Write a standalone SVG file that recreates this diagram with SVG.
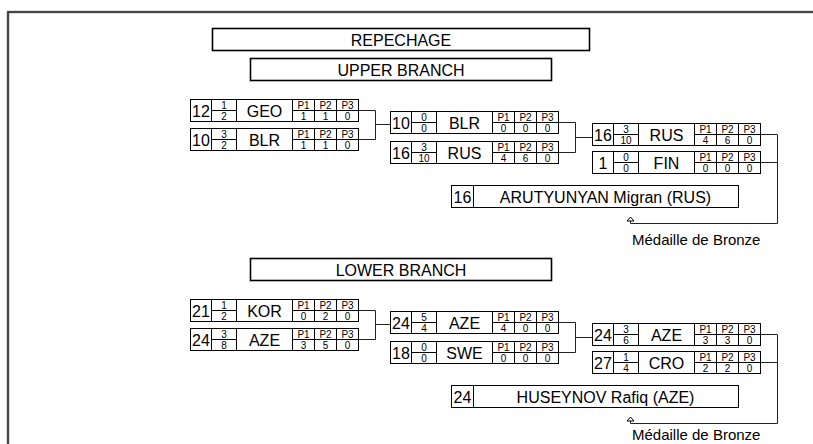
<svg xmlns="http://www.w3.org/2000/svg" xmlns:xlink="http://www.w3.org/1999/xlink" width="813" height="444" viewBox="0 0 813 444">
<style>
.bx{fill:#fff;stroke:#000;stroke-width:1}
.hd{fill:#fff;stroke:#000;stroke-width:1.6}
.ln{fill:none;stroke:#000;stroke-width:1}
.cn{fill:none;stroke:#222;stroke-width:1}
text{font-family:"Liberation Sans",Arial,sans-serif;text-anchor:middle;fill:#000}
.h{font-size:16px}
.s{font-size:16px}
.n{font-size:16px}
.f{font-size:10px}
.lab{font-size:15px;text-anchor:start}
</style>
<defs>
<g id="grid">
<rect class="bx" x="0" y="0" width="168" height="22"/>
<path class="ln" d="M21,0V22M46,0V22M102,0V22M124,0V22M146,0V22M21,11H46M102,11H168"/>
</g>
<marker id="ah" markerUnits="userSpaceOnUse" markerWidth="12" markerHeight="12" viewBox="-2 -6 12 12" refX="0" refY="0" orient="auto" overflow="visible">
<path d="M0,-3.5L4,0L0,3.5Z" fill="#fff" stroke="#000" stroke-width="1"/>
</marker>
</defs>

<path d="M8,444V12H813" fill="none" stroke="#bbb" stroke-width="3"/>
<path d="M8,444V12H813" fill="none" stroke="#222" stroke-width="1.5"/>

<g id="repechage">
<rect class="hd" x="212.5" y="28.5" width="377" height="22"/>
<text class="h" x="401" y="45.5">REPECHAGE</text>
</g>
<g id="upper-branch">
<rect class="hd" x="250.5" y="58.5" width="301" height="22"/>
<text class="h" x="401" y="75.5">UPPER BRANCH</text>
</g>
<g id="lower-branch">
<rect class="hd" x="250.5" y="258.5" width="301" height="22"/>
<text class="h" x="401" y="275.5">LOWER BRANCH</text>
</g>

<g id="connectors">
<path class="cn" d="M358,110.5H375.5V139.5H358M375.5,124.5H390"/>
<path class="cn" d="M558,122.5H575.5V152.5H558M575.5,137.5H592"/>
<path class="cn" d="M760,134.5H777.5V223.5H630.5V221" marker-end="url(#ah)"/>
<path class="cn" d="M760,162.5H777.5"/>
<path class="cn" d="M358,310.5H375.5V339.5H358M375.5,324.5H390"/>
<path class="cn" d="M558,322.5H575.5V352.5H558M575.5,337.5H592"/>
<path class="cn" d="M760,334.5H777.5V423.5H630.5V421" marker-end="url(#ah)"/>
<path class="cn" d="M760,362.5H777.5"/>
</g>

<g id="u1a" transform="translate(190.5,99.5)"><use xlink:href="#grid"/>
<text class="s" x="10.5" y="17">12</text><text class="f" x="33.5" y="9.5">1</text><text class="f" x="33.5" y="20.5">2</text>
<text class="n" x="74" y="17">GEO</text>
<text class="f" x="113" y="9.5">P1</text><text class="f" x="135" y="9.5">P2</text><text class="f" x="157" y="9.5">P3</text>
<text class="f" x="113" y="20.5">1</text><text class="f" x="135" y="20.5">1</text><text class="f" x="157" y="20.5">0</text></g>

<g id="u1b" transform="translate(190.5,128.5)"><use xlink:href="#grid"/>
<text class="s" x="10.5" y="17">10</text><text class="f" x="33.5" y="9.5">3</text><text class="f" x="33.5" y="20.5">2</text>
<text class="n" x="74" y="17">BLR</text>
<text class="f" x="113" y="9.5">P1</text><text class="f" x="135" y="9.5">P2</text><text class="f" x="157" y="9.5">P3</text>
<text class="f" x="113" y="20.5">1</text><text class="f" x="135" y="20.5">1</text><text class="f" x="157" y="20.5">0</text></g>

<g id="u2a" transform="translate(390.5,111.5)"><use xlink:href="#grid"/>
<text class="s" x="10.5" y="17">10</text><text class="f" x="33.5" y="9.5">0</text><text class="f" x="33.5" y="20.5">0</text>
<text class="n" x="74" y="17">BLR</text>
<text class="f" x="113" y="9.5">P1</text><text class="f" x="135" y="9.5">P2</text><text class="f" x="157" y="9.5">P3</text>
<text class="f" x="113" y="20.5">0</text><text class="f" x="135" y="20.5">0</text><text class="f" x="157" y="20.5">0</text></g>

<g id="u2b" transform="translate(390.5,141.5)"><use xlink:href="#grid"/>
<text class="s" x="10.5" y="17">16</text><text class="f" x="33.5" y="9.5">3</text><text class="f" x="33.5" y="20.5">10</text>
<text class="n" x="74" y="17">RUS</text>
<text class="f" x="113" y="9.5">P1</text><text class="f" x="135" y="9.5">P2</text><text class="f" x="157" y="9.5">P3</text>
<text class="f" x="113" y="20.5">4</text><text class="f" x="135" y="20.5">6</text><text class="f" x="157" y="20.5">0</text></g>

<g id="u3a" transform="translate(592.5,123.5)"><use xlink:href="#grid"/>
<text class="s" x="10.5" y="17">16</text><text class="f" x="33.5" y="9.5">3</text><text class="f" x="33.5" y="20.5">10</text>
<text class="n" x="74" y="17">RUS</text>
<text class="f" x="113" y="9.5">P1</text><text class="f" x="135" y="9.5">P2</text><text class="f" x="157" y="9.5">P3</text>
<text class="f" x="113" y="20.5">4</text><text class="f" x="135" y="20.5">6</text><text class="f" x="157" y="20.5">0</text></g>

<g id="u3b" transform="translate(592.5,151.5)"><use xlink:href="#grid"/>
<text class="s" x="10.5" y="17">1</text><text class="f" x="33.5" y="9.5">0</text><text class="f" x="33.5" y="20.5">0</text>
<text class="n" x="74" y="17">FIN</text>
<text class="f" x="113" y="9.5">P1</text><text class="f" x="135" y="9.5">P2</text><text class="f" x="157" y="9.5">P3</text>
<text class="f" x="113" y="20.5">0</text><text class="f" x="135" y="20.5">0</text><text class="f" x="157" y="20.5">0</text></g>

<g id="u-final" transform="translate(451.5,185.5)">
<rect class="bx" x="0" y="0" width="287" height="22"/><path class="ln" d="M22,0V22"/>
<text class="s" x="11" y="17">16</text>
<text class="n" x="154" y="17">ARUTYUNYAN Migran (RUS)</text></g>
<text id="u-medal" class="lab" x="632" y="245">Médaille de Bronze</text>

<g id="l1a" transform="translate(190.5,299.5)"><use xlink:href="#grid"/>
<text class="s" x="10.5" y="17">21</text><text class="f" x="33.5" y="9.5">1</text><text class="f" x="33.5" y="20.5">2</text>
<text class="n" x="74" y="17">KOR</text>
<text class="f" x="113" y="9.5">P1</text><text class="f" x="135" y="9.5">P2</text><text class="f" x="157" y="9.5">P3</text>
<text class="f" x="113" y="20.5">0</text><text class="f" x="135" y="20.5">2</text><text class="f" x="157" y="20.5">0</text></g>

<g id="l1b" transform="translate(190.5,328.5)"><use xlink:href="#grid"/>
<text class="s" x="10.5" y="17">24</text><text class="f" x="33.5" y="9.5">3</text><text class="f" x="33.5" y="20.5">8</text>
<text class="n" x="74" y="17">AZE</text>
<text class="f" x="113" y="9.5">P1</text><text class="f" x="135" y="9.5">P2</text><text class="f" x="157" y="9.5">P3</text>
<text class="f" x="113" y="20.5">3</text><text class="f" x="135" y="20.5">5</text><text class="f" x="157" y="20.5">0</text></g>

<g id="l2a" transform="translate(390.5,311.5)"><use xlink:href="#grid"/>
<text class="s" x="10.5" y="17">24</text><text class="f" x="33.5" y="9.5">5</text><text class="f" x="33.5" y="20.5">4</text>
<text class="n" x="74" y="17">AZE</text>
<text class="f" x="113" y="9.5">P1</text><text class="f" x="135" y="9.5">P2</text><text class="f" x="157" y="9.5">P3</text>
<text class="f" x="113" y="20.5">4</text><text class="f" x="135" y="20.5">0</text><text class="f" x="157" y="20.5">0</text></g>

<g id="l2b" transform="translate(390.5,341.5)"><use xlink:href="#grid"/>
<text class="s" x="10.5" y="17">18</text><text class="f" x="33.5" y="9.5">0</text><text class="f" x="33.5" y="20.5">0</text>
<text class="n" x="74" y="17">SWE</text>
<text class="f" x="113" y="9.5">P1</text><text class="f" x="135" y="9.5">P2</text><text class="f" x="157" y="9.5">P3</text>
<text class="f" x="113" y="20.5">0</text><text class="f" x="135" y="20.5">0</text><text class="f" x="157" y="20.5">0</text></g>

<g id="l3a" transform="translate(592.5,323.5)"><use xlink:href="#grid"/>
<text class="s" x="10.5" y="17">24</text><text class="f" x="33.5" y="9.5">3</text><text class="f" x="33.5" y="20.5">6</text>
<text class="n" x="74" y="17">AZE</text>
<text class="f" x="113" y="9.5">P1</text><text class="f" x="135" y="9.5">P2</text><text class="f" x="157" y="9.5">P3</text>
<text class="f" x="113" y="20.5">3</text><text class="f" x="135" y="20.5">3</text><text class="f" x="157" y="20.5">0</text></g>

<g id="l3b" transform="translate(592.5,351.5)"><use xlink:href="#grid"/>
<text class="s" x="10.5" y="17">27</text><text class="f" x="33.5" y="9.5">1</text><text class="f" x="33.5" y="20.5">4</text>
<text class="n" x="74" y="17">CRO</text>
<text class="f" x="113" y="9.5">P1</text><text class="f" x="135" y="9.5">P2</text><text class="f" x="157" y="9.5">P3</text>
<text class="f" x="113" y="20.5">2</text><text class="f" x="135" y="20.5">2</text><text class="f" x="157" y="20.5">0</text></g>

<g id="l-final" transform="translate(451.5,385.5)">
<rect class="bx" x="0" y="0" width="287" height="22"/><path class="ln" d="M22,0V22"/>
<text class="s" x="11" y="17">24</text>
<text class="n" x="154" y="17">HUSEYNOV Rafiq (AZE)</text></g>
<text id="l-medal" class="lab" x="632" y="440">Médaille de Bronze</text>
</svg>
